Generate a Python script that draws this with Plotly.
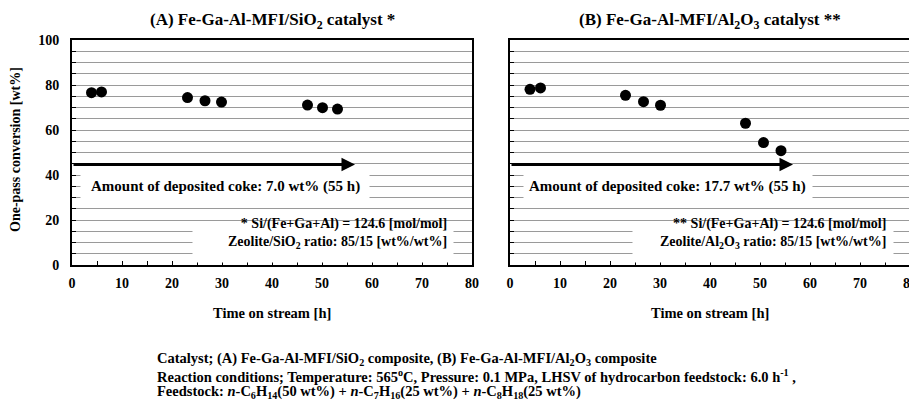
import plotly.graph_objects as go

# ---- data ----
time_a = [3.9, 5.9, 23.1, 26.6, 29.9, 47.1, 50.1, 53.1]
conv_a = [76.6, 76.9, 74.4, 73.0, 72.4, 71.1, 69.9, 69.3]
time_b = [4.0, 6.1, 23.1, 26.7, 30.1, 47.1, 50.7, 54.2]
conv_b = [78.1, 78.7, 75.4, 72.6, 71.0, 63.0, 54.4, 50.8]

x_ticks = [0, 10, 20, 30, 40, 50, 60, 70, 80]
y_ticks = [0, 20, 40, 60, 80, 100]

arrow_y = 44.7
arrow_end = 56.6

titles = ["(A) Fe-Ga-Al-MFI/SiO<sub>2</sub> catalyst *",
          "(B) Fe-Ga-Al-MFI/Al<sub>2</sub>O<sub>3</sub> catalyst **"]
coke_texts = ["Amount of deposited coke: 7.0 wt% (55 h)",
              "Amount of deposited coke: 17.7 wt% (55 h)"]
ratio_texts = ["* Si/(Fe+Ga+Al) = 124.6 [mol/mol]<br>Zeolite/SiO<sub>2</sub> ratio: 85/15 [wt%/wt%]",
               "** Si/(Fe+Ga+Al) = 124.6 [mol/mol]<br>Zeolite/Al<sub>2</sub>O<sub>3</sub> ratio: 85/15 [wt%/wt%]"]
footer = [
    "Catalyst; (A) Fe-Ga-Al-MFI/SiO<sub>2</sub> composite, (B) Fe-Ga-Al-MFI/Al<sub>2</sub>O<sub>3</sub> composite",
    "Reaction conditions; Temperature: 565<sup>o</sup>C, Pressure: 0.1 MPa, LHSV of hydrocarbon feedstock: 6.0 h<sup>-1</sup> ,",
    "Feedstock: <i>n</i>-C<sub>6</sub>H<sub>14</sub>(50 wt%) + <i>n</i>-C<sub>7</sub>H<sub>16</sub>(25 wt%) + <i>n</i>-C<sub>8</sub>H<sub>18</sub>(25 wt%)",
]

FONT = "Liberation Serif"
BOLD = dict(family=FONT, color="black", weight="bold")

# page body has an 8px margin; lay the figure out in window pixels
OFF = 8
W, H = 917 - OFF, 402 - OFF

def px_x(p):
    return (p - OFF) / W

def px_y(p):
    return 1 - (p - OFF) / H

# plot area pixel geometry (window coordinates)
panels = [(72, 472), (510, 910)]
top, bottom = 40, 265

fig = go.Figure()
fig.add_trace(go.Scatter(x=time_a, y=conv_a, mode="markers", xaxis="x", yaxis="y",
                         marker=dict(color="black", size=11), showlegend=False))
fig.add_trace(go.Scatter(x=time_b, y=conv_b, mode="markers", xaxis="x2", yaxis="y2",
                         marker=dict(color="black", size=11), showlegend=False))

def xaxis_def(dom, anchor):
    return dict(domain=dom, anchor=anchor, range=[0, 80], tickvals=x_ticks,
                ticks="inside", ticklen=4, tickwidth=1, tickcolor="black",
                minor=dict(dtick=5, tick0=0, ticks="inside", ticklen=4, tickcolor="black", showgrid=False),
                showgrid=False, zeroline=False, showline=True, linewidth=2, linecolor="black",
                mirror=True, tickfont=dict(size=14, **BOLD), ticklabelstandoff=4,
                ticklabeloverflow="allow", automargin=False, fixedrange=True)

def yaxis_def(anchor, show_labels):
    return dict(domain=[px_y(bottom), px_y(top)], anchor=anchor, range=[0, 100], tickvals=y_ticks,
                ticks="inside", ticklen=4, tickcolor="black",
                showgrid=True, gridcolor="#9a9a9a", gridwidth=1,
                minor=dict(dtick=5, tick0=0, showgrid=True, gridcolor="#9a9a9a", gridwidth=1,
                           ticks="inside", ticklen=4, tickcolor="black"),
                zeroline=False, showline=True, linewidth=2, linecolor="black", mirror=True,
                showticklabels=show_labels, tickfont=dict(size=14, **BOLD),
                ticklabelstandoff=8, ticklabeloverflow="allow", automargin=False, fixedrange=True)

fig.update_layout(
    width=W, height=H, margin=dict(l=0, r=0, t=0, b=0, autoexpand=False),
    paper_bgcolor="white", plot_bgcolor="white",
    xaxis=xaxis_def([px_x(panels[0][0]), px_x(panels[0][1])], "y"),
    yaxis=yaxis_def("x", True),
    xaxis2=xaxis_def([px_x(panels[1][0]), px_x(panels[1][1])], "y2"),
    yaxis2=yaxis_def("x2", False),
    showlegend=False,
)

anns = []
for i, (xr, yr) in enumerate([("x", "y"), ("x2", "y2")]):
    left, right = panels[i]
    cx = (left + right) / 2
    # white boxes masking gridlines
    anns.append(dict(xref=xr, yref=yr, x=30.6 + 0.9 * i, y=35.1, text=" ", showarrow=False,
                     width=288, height=38, bgcolor="white", borderpad=0,
                     font=dict(size=10, family=FONT)))
    anns.append(dict(xref=xr, yref=yr, x=50.1 + 0.5 * i, y=10.0, text=" ", showarrow=False,
                     width=260, height=38, bgcolor="white", borderpad=0,
                     font=dict(size=10, family=FONT)))
    # arrow
    anns.append(dict(xref=xr, yref=yr, axref=xr, ayref=yr, x=arrow_end, y=arrow_y,
                     ax=0, ay=arrow_y, text="", showarrow=True, arrowhead=2, arrowsize=0.9,
                     arrowwidth=3, arrowcolor="black", standoff=0, startstandoff=0))
    # texts
    anns.append(dict(xref=xr, yref=yr, x=30.6 + 0.9 * i, y=34.9, text=coke_texts[i],
                     showarrow=False, font=dict(size=15, **BOLD), xanchor="center", yanchor="middle"))
    anns.append(dict(xref=xr, yref=yr, x=75.3 + 0.3 * i, y=13.8, text=ratio_texts[i],
                     showarrow=False, font=dict(size=14, **BOLD), xanchor="right", yanchor="middle",
                     align="right"))
    # panel title
    anns.append(dict(xref="paper", yref="paper", x=px_x(cx), y=px_y(21), text=titles[i],
                     showarrow=False, font=dict(size=17, **BOLD), xanchor="center", yanchor="middle"))
    # x-axis title
    anns.append(dict(xref="paper", yref="paper", x=px_x(cx), y=px_y(313), text="Time on stream [h]",
                     showarrow=False, font=dict(size=14.5, **BOLD), xanchor="center", yanchor="middle"))

anns.append(dict(xref="paper", yref="paper", x=px_x(15), y=px_y(150), text="One-pass conversion [wt%]",
                 showarrow=False, textangle=-90, font=dict(size=14, **BOLD),
                 xanchor="center", yanchor="middle"))

for j, (txt, yy) in enumerate(zip(footer, [359, 376, 392])):
    anns.append(dict(xref="paper", yref="paper", x=px_x(155), y=px_y(yy), text=txt,
                     showarrow=False, font=dict(size=14.5, **BOLD), xanchor="left", yanchor="middle",
                     align="left"))

fig.update_layout(annotations=anns)
fig.write_html("out.html")
